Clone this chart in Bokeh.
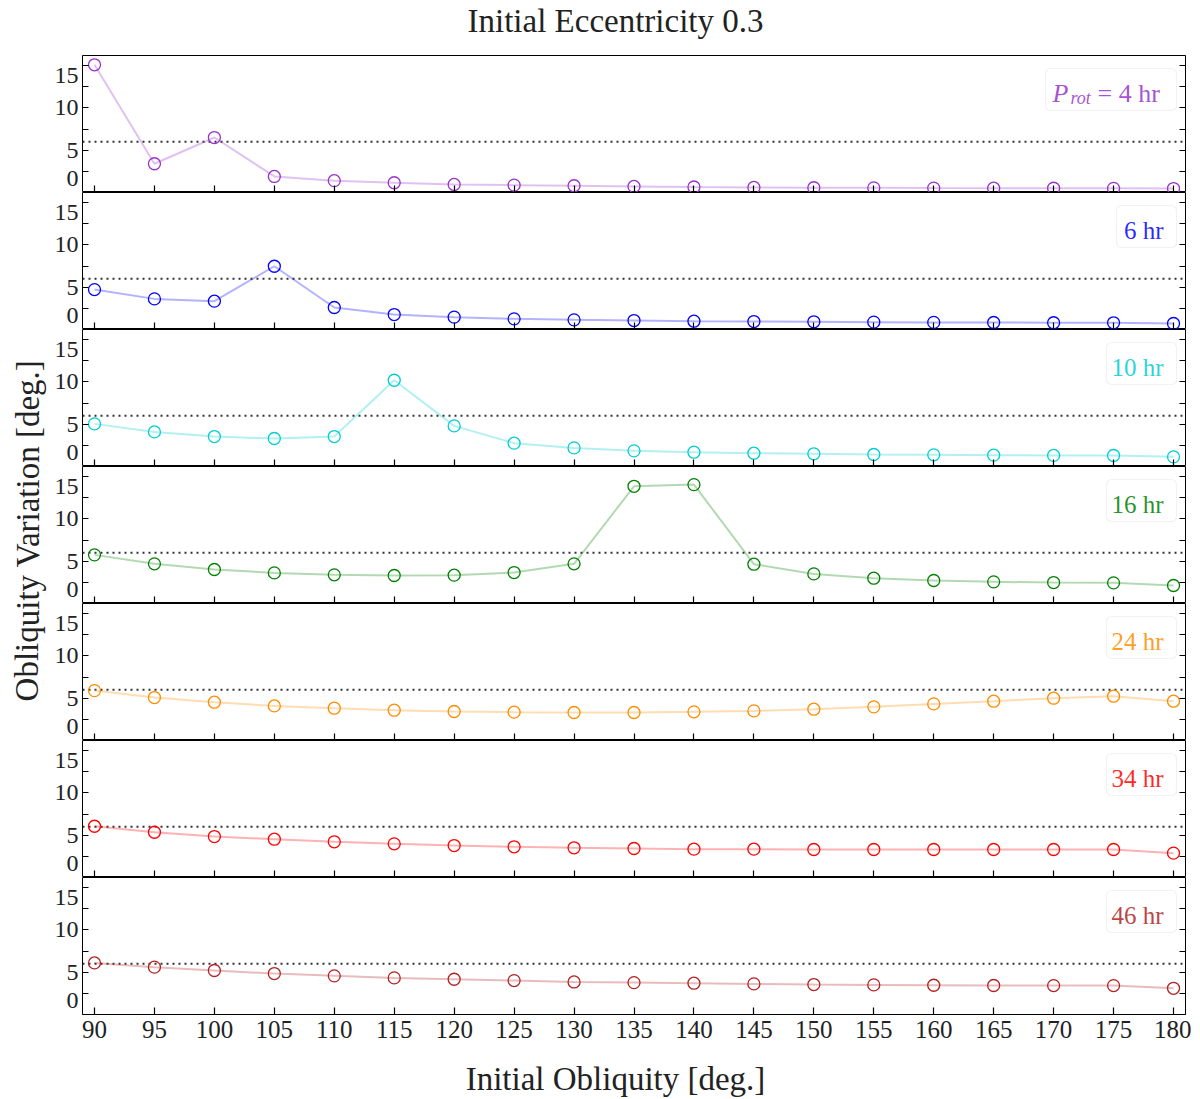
from bokeh.plotting import figure
from bokeh.layouts import column, row
from bokeh.models import Range1d, FixedTicker, LinearAxis, Span, BoxAnnotation, Label
from bokeh.embed import file_html
from bokeh.resources import INLINE
from bokeh.core.properties import value

# ---------------- data ----------------
obliquity = [90, 95, 100, 105, 110, 115, 120, 125, 130, 135, 140, 145, 150, 155, 160, 165, 170, 175, 180]
x_ticks = [90, 95, 100, 105, 110, 115, 120, 125, 130, 135, 140, 145, 150, 155, 160, 165, 170, 175, 180]

periods = ["4 hr", "6 hr", "10 hr", "16 hr", "24 hr", "34 hr", "46 hr"]
colors = ["darkorchid", "blue", "darkturquoise", "green", "darkorange", "red", "firebrick"]

var_4hr = [15.1, 3.4, 6.5, 1.9, 1.4, 1.15, 0.95, 0.87, 0.8, 0.72, 0.65, 0.6, 0.56, 0.55, 0.52, 0.51, 0.5, 0.49, 0.47]
var_6hr = [4.72, 3.62, 3.35, 7.48, 2.6, 1.77, 1.46, 1.26, 1.14, 1.06, 0.98, 0.94, 0.91, 0.87, 0.84, 0.83, 0.8, 0.79, 0.71]
var_10hr = [5.04, 4.09, 3.54, 3.31, 3.54, 10.2, 4.8, 2.76, 2.2, 1.85, 1.69, 1.57, 1.5, 1.42, 1.38, 1.34, 1.31, 1.3, 1.14]
var_16hr = [5.75, 4.69, 4.02, 3.62, 3.39, 3.31, 3.35, 3.66, 4.69, 13.86, 14.06, 4.65, 3.5, 2.99, 2.72, 2.56, 2.48, 2.44, 2.13]
var_24hr = [5.9, 5.08, 4.53, 4.09, 3.82, 3.58, 3.43, 3.35, 3.31, 3.31, 3.39, 3.5, 3.7, 3.98, 4.33, 4.65, 5.0, 5.24, 4.65]
var_34hr = [6.06, 5.35, 4.84, 4.53, 4.22, 3.98, 3.78, 3.63, 3.51, 3.43, 3.35, 3.35, 3.31, 3.31, 3.31, 3.31, 3.31, 3.31, 2.88]
var_46hr = [6.1, 5.6, 5.2, 4.84, 4.57, 4.33, 4.17, 4.01, 3.85, 3.77, 3.7, 3.62, 3.54, 3.5, 3.46, 3.43, 3.42, 3.42, 3.1]
series = [var_4hr, var_6hr, var_10hr, var_16hr, var_24hr, var_34hr, var_46hr]

threshold = 6.0
y_tick_marks = [0, 2.5, 5, 7.5, 10, 12.5, 15]
# tick labels: "0" sits just above its tick, "15" just below (as in the reference)
y_label_pos = [1.6, 5, 10, 13.85]
y_label_text = {1.6: "0", 13.85: "15"}

title_text = "Initial Eccentricity 0.3"
xlabel_text = "Initial Obliquity [deg.]"
ylabel_text = "Obliquity Variation [deg.]"

# ---------------- styling ----------------
FONT = "Liberation Serif"
FW, FH = 1103, 137
LEFT, RIGHT = 34, 6
BOTTOM = 40
XLAB_H = 44
TOP_H = 55
YLAB_W = 48
TICK_COLOR = "#222222"

x_range = Range1d(89, 181)


def blank_fig(w, h, xr, yr):
    f = figure(width=w, height=h, x_range=xr, y_range=yr, toolbar_location=None,
               output_backend="svg", min_border=0, x_axis_location=None,
               y_axis_location=None, outline_line_color=None, title=None)
    f.grid.grid_line_color = None
    return f


panels = []
for i, (name, vals, col) in enumerate(zip(periods, series, colors)):
    last = i == len(periods) - 1
    p = figure(frame_width=FW, frame_height=FH, x_range=x_range, y_range=Range1d(0, 16.2),
               toolbar_location=None, output_backend="svg", title=None,
               min_border_left=LEFT, min_border_right=RIGHT, min_border_top=0,
               min_border_bottom=BOTTOM if last else 0,
               x_axis_location=None, y_axis_location=None,
               outline_line_color="black", outline_line_width=1.0)
    p.grid.grid_line_color = None

    # left y axis: tick marks + labels
    yl = LinearAxis(ticker=FixedTicker(ticks=y_label_pos, minor_ticks=y_tick_marks),
                    major_tick_in=0, major_tick_out=0,
                    minor_tick_in=6, minor_tick_out=0,
                    minor_tick_line_color="black", minor_tick_line_width=1.2,
                    axis_line_color=None,
                    major_label_overrides=y_label_text,
                    major_label_text_font=FONT, major_label_text_font_size="24px",
                    major_label_text_color=TICK_COLOR, major_label_standoff=4)
    p.add_layout(yl, "left")
    # right y axis: tick marks only
    yr = LinearAxis(ticker=FixedTicker(ticks=[], minor_ticks=y_tick_marks),
                    major_tick_in=0, major_tick_out=0,
                    minor_tick_in=6, minor_tick_out=0,
                    minor_tick_line_color="black", minor_tick_line_width=1.2,
                    axis_line_color=None, major_label_standoff=0)
    p.add_layout(yr, "right")

    if last:
        xax = LinearAxis(ticker=FixedTicker(ticks=x_ticks), major_tick_in=7, major_tick_out=0,
                         major_tick_line_color="black", major_tick_line_width=1.2,
                         minor_tick_in=0, minor_tick_out=0, axis_line_color=None,
                         major_label_text_font=FONT, major_label_text_font_size="25px",
                         major_label_text_color=TICK_COLOR, major_label_standoff=6)
    else:
        xax = LinearAxis(ticker=FixedTicker(ticks=[], minor_ticks=x_ticks),
                         major_tick_in=0, major_tick_out=0,
                         minor_tick_in=7, minor_tick_out=0,
                         minor_tick_line_color="black", minor_tick_line_width=1.2,
                         axis_line_color=None, major_label_standoff=0)
    p.add_layout(xax, "below")

    span = Span(location=threshold, dimension="width", line_dash="2 4",
                line_color="#333333", line_width=2, level="underlay")
    p.add_layout(span)

    p.line(obliquity, vals, line_color=col, line_alpha=0.3, line_width=2)
    p.scatter(obliquity, vals, marker="circle", size=12, fill_alpha=0,
              line_color=col, line_width=1.3)

    # legend box
    box_left = 963 if i == 0 else (1034 if i == 1 else 1024)
    p.add_layout(BoxAnnotation(left=box_left, right=1094, top=124, bottom=82,
                               left_units="screen", right_units="screen",
                               top_units="screen", bottom_units="screen",
                               fill_color="white", fill_alpha=0.85,
                               line_color="#d4d4d4", line_width=1.2,
                               border_radius=5, level="annotation"))
    if i == 0:
        p.add_layout(Label(x=970, y=99, x_units="screen", y_units="screen", text="P",
                           text_font=FONT, text_font_size="26px", text_font_style="italic",
                           text_color=col, text_alpha=0.85, text_baseline="alphabetic"))
        p.add_layout(Label(x=988, y=95, x_units="screen", y_units="screen", text="rot",
                           text_font=FONT, text_font_size="18px", text_font_style="italic",
                           text_color=col, text_alpha=0.85, text_baseline="alphabetic"))
        p.add_layout(Label(x=1015, y=99, x_units="screen", y_units="screen", text="= 4 hr",
                           text_font=FONT, text_font_size="26px",
                           text_color=col, text_alpha=0.85, text_baseline="alphabetic"))
    else:
        p.add_layout(Label(x=1081, y=99, x_units="screen", y_units="screen", text=name,
                           text_font=FONT, text_font_size="25px", text_align="right",
                           text_color=col, text_alpha=0.85, text_baseline="alphabetic"))
    panels.append(p)

panel_w = LEFT + FW + RIGHT
total_w = YLAB_W + panel_w
panels_h = FH * len(periods) + BOTTOM

# title
tfig = blank_fig(total_w, TOP_H, Range1d(0, total_w), Range1d(0, TOP_H))
tfig.text(x=[615], y=[TOP_H - 20], text=[title_text], text_font=value(FONT),
          text_font_size="33px", text_align="center", text_baseline="middle",
          text_color=TICK_COLOR)

# y label
yfig = blank_fig(YLAB_W, panels_h, Range1d(0, YLAB_W), Range1d(0, panels_h))
yfig.text(x=[27], y=[panels_h - (530 - TOP_H)], text=[ylabel_text], text_font=value(FONT),
          text_font_size="33px", text_align="center", text_baseline="middle",
          angle=1.5707963, text_color=TICK_COLOR)

# x label
bfig = blank_fig(total_w, XLAB_H, Range1d(0, total_w), Range1d(0, XLAB_H))
bfig.text(x=[615], y=[XLAB_H - 24], text=[xlabel_text], text_font=value(FONT),
          text_font_size="33px", text_align="center", text_baseline="middle",
          text_color=TICK_COLOR)

layout = column(tfig, row(yfig, column(*panels, spacing=0), spacing=0), bfig, spacing=0)

open("out.html", "w").write(file_html(layout, INLINE))
